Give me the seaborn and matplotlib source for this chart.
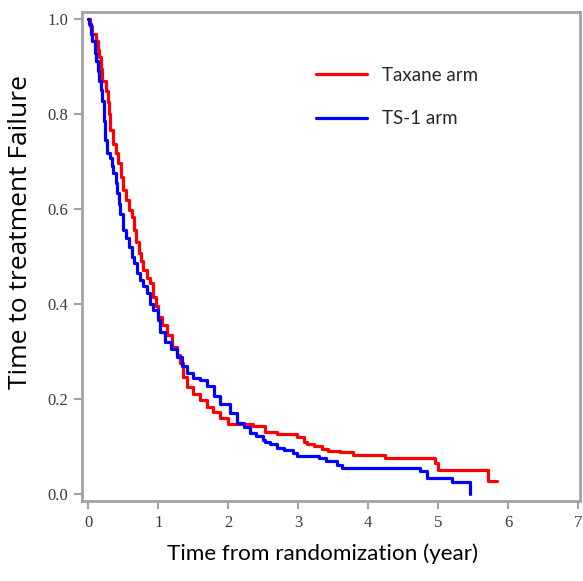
import matplotlib
matplotlib.use("Agg")
import matplotlib.pyplot as plt
import seaborn as sns
import pandas as pd

# Kaplan-Meier step points (years, fraction without failure)
taxane_time = [0.00, 0.03, 0.06, 0.11, 0.14, 0.16, 0.18, 0.20, 0.25, 0.28, 0.30, 0.31,
               0.36, 0.40, 0.43, 0.47, 0.50, 0.54, 0.58, 0.62, 0.65, 0.69, 0.72, 0.76,
               0.79, 0.84, 0.89, 0.93, 0.97, 1.00, 1.06, 1.13, 1.20, 1.27, 1.31, 1.36,
               1.41, 1.50, 1.60, 1.70, 1.79, 1.89, 2.00, 2.36, 2.53, 2.70, 2.98, 3.08,
               3.12, 3.22, 3.34, 3.43, 3.60, 3.79, 4.24, 4.96, 5.00, 5.72, 5.84]
taxane_surv = [1.000, 0.985, 0.968, 0.954, 0.935, 0.920, 0.895, 0.870, 0.849, 0.825, 0.800, 0.766,
               0.738, 0.718, 0.697, 0.668, 0.640, 0.620, 0.598, 0.583, 0.556, 0.530, 0.507, 0.490,
               0.472, 0.455, 0.444, 0.415, 0.395, 0.373, 0.355, 0.335, 0.310, 0.293, 0.275, 0.245,
               0.225, 0.210, 0.197, 0.183, 0.172, 0.160, 0.146, 0.142, 0.131, 0.126, 0.120, 0.110,
               0.105, 0.100, 0.094, 0.091, 0.087, 0.082, 0.075, 0.065, 0.051, 0.027, 0.027]

ts1_time = [0.00, 0.01, 0.04, 0.06, 0.09, 0.11, 0.14, 0.16, 0.18, 0.20, 0.22, 0.23,
            0.24, 0.27, 0.31, 0.34, 0.36, 0.39, 0.41, 0.44, 0.46, 0.50, 0.54, 0.58,
            0.62, 0.65, 0.70, 0.74, 0.79, 0.84, 0.89, 0.93, 1.00, 1.03, 1.10, 1.18,
            1.27, 1.34, 1.41, 1.50, 1.60, 1.70, 1.80, 1.89, 2.03, 2.13, 2.22, 2.31,
            2.40, 2.50, 2.53, 2.60, 2.70, 2.80, 2.93, 2.98, 3.30, 3.40, 3.55, 3.63,
            4.74, 4.84, 5.20, 5.46]
ts1_surv = [1.000, 0.990, 0.970, 0.954, 0.930, 0.912, 0.890, 0.870, 0.850, 0.828, 0.808, 0.786,
            0.745, 0.718, 0.707, 0.690, 0.675, 0.655, 0.634, 0.610, 0.590, 0.556, 0.538, 0.520,
            0.500, 0.486, 0.465, 0.450, 0.437, 0.423, 0.400, 0.387, 0.366, 0.340, 0.320, 0.305,
            0.288, 0.270, 0.254, 0.244, 0.240, 0.226, 0.205, 0.190, 0.170, 0.149, 0.140, 0.128,
            0.122, 0.114, 0.110, 0.104, 0.096, 0.093, 0.086, 0.080, 0.075, 0.068, 0.061, 0.054,
            0.047, 0.033, 0.024, 0.000]

arm_names = ["Taxane arm", "TS-1 arm"]
arm_colors = ["#ff0000", "#0000ff"]

df = pd.concat([
    pd.DataFrame({"time": taxane_time, "surv": taxane_surv, "arm": arm_names[0]}),
    pd.DataFrame({"time": ts1_time, "surv": ts1_surv, "arm": arm_names[1]}),
])

sns.set_style("white")
fig = plt.figure(figsize=(5.83, 5.81), dpi=100)
ax = fig.add_axes([0.141, 0.138, 0.854, 0.841])

sns.lineplot(data=df, x="time", y="surv", hue="arm", palette=arm_colors,
             drawstyle="steps-post", linewidth=2.3, estimator=None, legend=False, ax=ax)

ax.set_xlim(-0.086, 7.03)
ax.set_ylim(-0.015, 1.015)
ax.set_xticks(range(0, 8))
ax.set_yticks([0.0, 0.2, 0.4, 0.6, 0.8, 1.0])
ax.set_yticklabels(["0.0", "0.2", "0.4", "0.6", "0.8", "1.0"])

for s in ax.spines.values():
    s.set_color("#a0a4a4")
    s.set_linewidth(2)
ax.tick_params(bottom=True, left=True, direction="out", length=6, width=1.5, color="#a0a4a4",
               labelsize=12, labelcolor="#3a3a3a", pad=4)
for lab in ax.get_xticklabels() + ax.get_yticklabels():
    lab.set_family("Liberation Serif")

ax.set_xlabel("Time from randomization (year)", fontsize=16.2, family="Lato", color="black")
ax.xaxis.set_label_coords(0.482, -0.088)
ax.set_ylabel("Time to treatment Failure", fontsize=19, family="Open Sans", color="black")
ax.yaxis.set_label_coords(-0.098, 0.55)

ax.legend(ax.get_lines(), arm_names, loc="upper left", bbox_to_anchor=(0.47, 0.888),
          frameon=False, borderpad=0, borderaxespad=0, handlelength=2.7,
          handletextpad=0.8, labelspacing=1.4,
          prop={"family": "Lato", "size": 13.5})

fig.savefig("out.png", dpi=100)
